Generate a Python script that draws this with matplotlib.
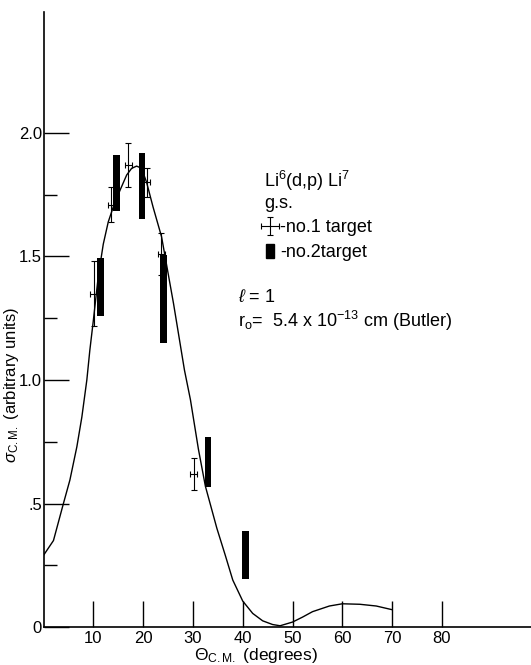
import matplotlib
matplotlib.use("Agg")
import matplotlib.pyplot as plt
from matplotlib.patches import Rectangle
from matplotlib.ticker import FixedLocator

plt.rcParams['font.family'] = ['Liberation Sans', 'DejaVu Sans']
plt.rcParams['mathtext.fontset'] = 'custom'
plt.rcParams['mathtext.rm'] = 'Liberation Sans'
plt.rcParams['mathtext.it'] = 'Liberation Sans:italic'
plt.rcParams['mathtext.bf'] = 'Liberation Sans:bold'

# ---- data ----
# theoretical curve (Butler, l = 1)
theta_curve = [0, 2, 4, 5.3, 6.7, 7.7, 8.7, 9.3, 10.0, 10.5, 11.0, 12.0, 13.0, 14.0,
               15.4, 16.7, 17.7, 18.7, 19.7, 20.7, 22.0, 23.7, 26.1, 28.3, 29.5, 31.1,
               32.5, 34.8, 36.5, 38.0, 40.0, 42.0, 44.0, 46.0, 47.5, 50.0, 52.0, 54.0,
               57.4, 60.0, 63.5, 66.8, 70.0]
sigma_curve = [0.29, 0.35, 0.50, 0.595, 0.73, 0.85, 1.0, 1.12, 1.24, 1.33, 1.42, 1.55,
               1.64, 1.70, 1.77, 1.83, 1.857, 1.866, 1.857, 1.80, 1.70, 1.58, 1.31, 1.04,
               0.92, 0.72, 0.57, 0.40, 0.29, 0.19, 0.105, 0.055, 0.025, 0.01, 0.005, 0.02,
               0.04, 0.062, 0.085, 0.094, 0.092, 0.085, 0.07]

# no.1 target (error bars)
theta1 = [10.1, 13.65, 17.0, 20.7, 23.6, 30.2]
sigma1 = [1.35, 1.71, 1.87, 1.80, 1.51, 0.62]
err1 = [0.13, 0.07, 0.09, 0.06, 0.085, 0.065]

# no.2 target (solid bars: lower and upper limits)
theta2 = [11.45, 14.7, 19.75, 24.1, 33.0, 40.6]
low2 = [1.259, 1.686, 1.653, 1.149, 0.568, 0.193]
high2 = [1.495, 1.911, 1.920, 1.506, 0.770, 0.389]

xticks = [10, 20, 30, 40, 50, 60, 70, 80]
yticks = [0, 0.5, 1.0, 1.5, 2.0]
yticklabels = ["0", ".5", "1.0", "1.5", "2.0"]
yminor = [0.25, 0.75, 1.25, 1.75]

# ---- figure ----
W, H = 531, 665
fig = plt.figure(figsize=(W / 100, H / 100), dpi=100)
axw = W - 43.5
axh = 627 - 12
ax = fig.add_axes([43.5 / W, 38 / H, axw / W, axh / H])
ax.set_xlim(0, axw / 4.981)
ax.set_ylim(0, axh / 247)

for s in ['top', 'right']:
    ax.spines[s].set_visible(False)
for s in ['left', 'bottom']:
    ax.spines[s].set_linewidth(1.2)

ax.plot(theta_curve, sigma_curve, color='black', lw=1.0, zorder=2)

eb = ax.errorbar(theta1, sigma1, yerr=err1, xerr=0.7, fmt='none', ecolor='black',
                 elinewidth=0.8, capsize=2.5, capthick=0.8, zorder=3)

heights = [h - l for h, l in zip(high2, low2)]
ax.bar(theta2, heights, bottom=low2, width=1.3, color='black', zorder=4)

ax.set_xticks(xticks)
ax.set_xticklabels([str(t) for t in xticks])
ax.set_yticks(yticks)
ax.set_yticklabels(yticklabels)
ax.yaxis.set_minor_locator(FixedLocator(yminor))
ax.tick_params(axis='x', direction='in', length=18.5, width=1.0, labelsize=12, pad=3)
ax.tick_params(axis='y', which='major', direction='in', length=18, width=1.0,
               labelsize=12, pad=1)
ax.tick_params(axis='y', which='minor', direction='in', length=9.5, width=1.0)

ax.set_xlabel(r"$\Theta_{\rm C.M.}$ (degrees)", fontsize=12.5)
ax.set_ylabel(r"$\sigma_{\rm C.M.}$ (arbitrary units)", fontsize=12)
ax.xaxis.set_label_coords((256 - 43.5) / axw, -(646 - 627) / axh)
ax.yaxis.set_label_coords(-(43.5 - 21) / axw, (627 - 385) / axh)

# annotations
ax.text(44.3, 1.781, r"Li$^{6}$(d,p) Li$^{7}$", fontsize=13)
ax.text(44.3, 1.696, "g.s.", fontsize=13)
ax.text(39.0, 1.316, r"$\ell$ = 1", fontsize=13)
ax.text(39.0, 1.215, r"r$_{\rm o}$=  5.4 x 10$^{-13}$ cm (Butler)", fontsize=13)

handles = [eb, Rectangle((0, 0), 1, 1, color='black')]
labels = ["-no.1 target", "-no.2target"]
leg = ax.legend(handles, labels, loc='upper left',
                bbox_to_anchor=((266 - 43.5) / axw, (627 - 219) / axh),
                frameon=False, fontsize=13, handlelength=0.45, handleheight=0.8,
                handletextpad=0.35, labelspacing=0.42, borderpad=0, borderaxespad=0)

fig.savefig("out.png", dpi=100)
